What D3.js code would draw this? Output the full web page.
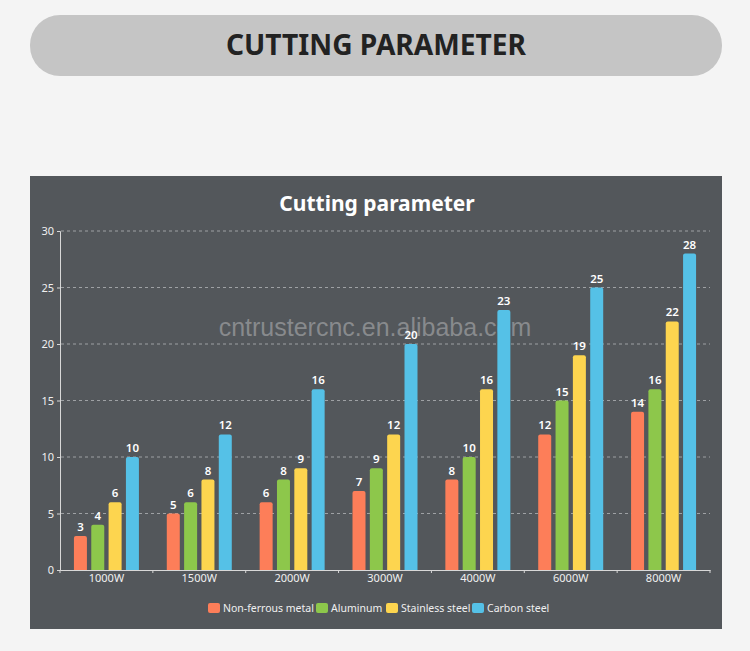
<!DOCTYPE html>
<html><head><meta charset="utf-8">
<script src="https://cdn.jsdelivr.net/npm/d3@7"></script>
<style>
html,body{margin:0;padding:0;background:#f4f4f4;}
svg{display:block;}
</style></head>
<body>
<svg id="c" width="750" height="651"></svg>
<script>
const categories = ["1000W","1500W","2000W","3000W","4000W","6000W","8000W"];
const seriesNames = ["Non-ferrous metal","Aluminum","Stainless steel","Carbon steel"];
const nonFerrous = [3,5,6,7,8,12,14];
const aluminum = [4,6,8,9,10,15,16];
const stainless = [6,8,9,12,16,19,22];
const carbon = [10,12,16,20,23,25,28];
const yTicks = [0,5,10,15,20,25,30];
const colors = ["#fd7e59","#8dc74b","#fdd54f","#55c1e7"];
const seriesValues = [nonFerrous, aluminum, stainless, carbon];

const svg = d3.select("#c");
// page header pill
svg.append("rect").attr("x",30).attr("y",15).attr("width",692).attr("height",61)
  .attr("rx",30).attr("fill","#c5c5c5");
const head = svg.append("text").attr("x",376).attr("y",55).attr("text-anchor","middle")
  .attr("font-family","Noto Sans, sans-serif").attr("font-weight","bold").attr("font-size",28)
  .attr("fill","#222").text("CUTTING PARAMETER");
head.attr("textLength",300).attr("lengthAdjust","spacingAndGlyphs");

// panel
svg.append("rect").attr("x",30).attr("y",176).attr("width",692).attr("height",453).attr("fill","#53575b");
svg.append("text").attr("x",377).attr("y",211).attr("text-anchor","middle")
  .attr("font-family","Noto Sans, sans-serif").attr("font-weight","bold").attr("font-size",21)
  .attr("fill","#fff").text("Cutting parameter");

const x0 = d3.scaleBand().domain(categories).range([60,710]).paddingInner(0.3).paddingOuter(0.15);
const x1 = d3.scaleBand().domain(seriesNames).range([0,x0.bandwidth()]).paddingInner(0.25);
const y = d3.scaleLinear().domain([0,30]).range([570,231]);

// gridlines
svg.append("g").selectAll("line").data(yTicks.filter(d=>d>0)).join("line")
  .attr("x1",61).attr("x2",710).attr("y1",d=>y(d)).attr("y2",d=>y(d))
  .attr("stroke","#9ea1a4").attr("stroke-width",1).attr("stroke-dasharray","3,3");

// y axis
const yAxis = svg.append("g").attr("transform","translate(60,0)")
  .call(d3.axisLeft(y).tickValues(yTicks).tickSize(3).tickPadding(3));
yAxis.select(".domain").attr("stroke","#d8d8d8");
yAxis.selectAll(".tick line").attr("stroke","#d8d8d8");
yAxis.selectAll("text").attr("fill","#f0f0f0").attr("font-size",11)
  .attr("font-family","Noto Sans, sans-serif");

// x axis
const xAxis = svg.append("g").attr("transform","translate(0,570)")
  .call(d3.axisBottom(x0).tickSize(0).tickPadding(4));
xAxis.select(".domain").attr("stroke","#d8d8d8");
xAxis.selectAll("text").attr("fill","#f0f0f0").attr("font-size",11)
  .attr("font-family","Noto Sans, sans-serif");
// small boundary ticks
const step = x0.step();
svg.append("g").selectAll("line").data(d3.range(categories.length+1)).join("line")
  .attr("x1",d=>60+d*step).attr("x2",d=>60+d*step).attr("y1",570).attr("y2",573)
  .attr("stroke","#d8d8d8");

// watermark
svg.append("text").attr("x",375).attr("y",336).attr("text-anchor","middle")
  .attr("font-family","Liberation Sans, Arial, sans-serif").attr("font-size",25)
  .attr("fill","#9a9c9e").attr("fill-opacity",0.75).text("cntrustercnc.en.alibaba.com");

// bars
const data = [];
categories.forEach((c,i)=>seriesNames.forEach((s,j)=>data.push({c,s,j,v:seriesValues[j][i]})));
const bw = x1.bandwidth();
function barPath(d){
  const xl = x0(d.c)+x1(d.s), yt = y(d.v), yb = y(0), r = 2;
  return `M${xl},${yb}V${yt+r}Q${xl},${yt} ${xl+r},${yt}H${xl+bw-r}Q${xl+bw},${yt} ${xl+bw},${yt+r}V${yb}Z`;
}
svg.append("g").selectAll("path").data(data).join("path")
  .attr("d",barPath).attr("fill",d=>colors[d.j]);
svg.append("g").selectAll("text").data(data).join("text")
  .attr("x",d=>x0(d.c)+x1(d.s)+bw/2).attr("y",d=>y(d.v)-5)
  .attr("text-anchor","middle").attr("font-family","Noto Sans, sans-serif")
  .attr("font-size",11.5).attr("font-weight",600).attr("fill","#fff").text(d=>d.v);

// legend
const legendX = [208,316,386,472];
const lg = svg.append("g").selectAll("g").data(seriesNames).join("g")
  .attr("transform",(d,i)=>`translate(${legendX[i]},603)`);
lg.append("rect").attr("width",12).attr("height",10).attr("rx",2).attr("fill",(d,i)=>colors[i]);
lg.append("text").attr("x",15).attr("y",9).attr("font-family","Noto Sans, sans-serif")
  .attr("font-size",10.5).attr("fill","#f0f0f0").text(d=>d);
</script>
</body></html>
